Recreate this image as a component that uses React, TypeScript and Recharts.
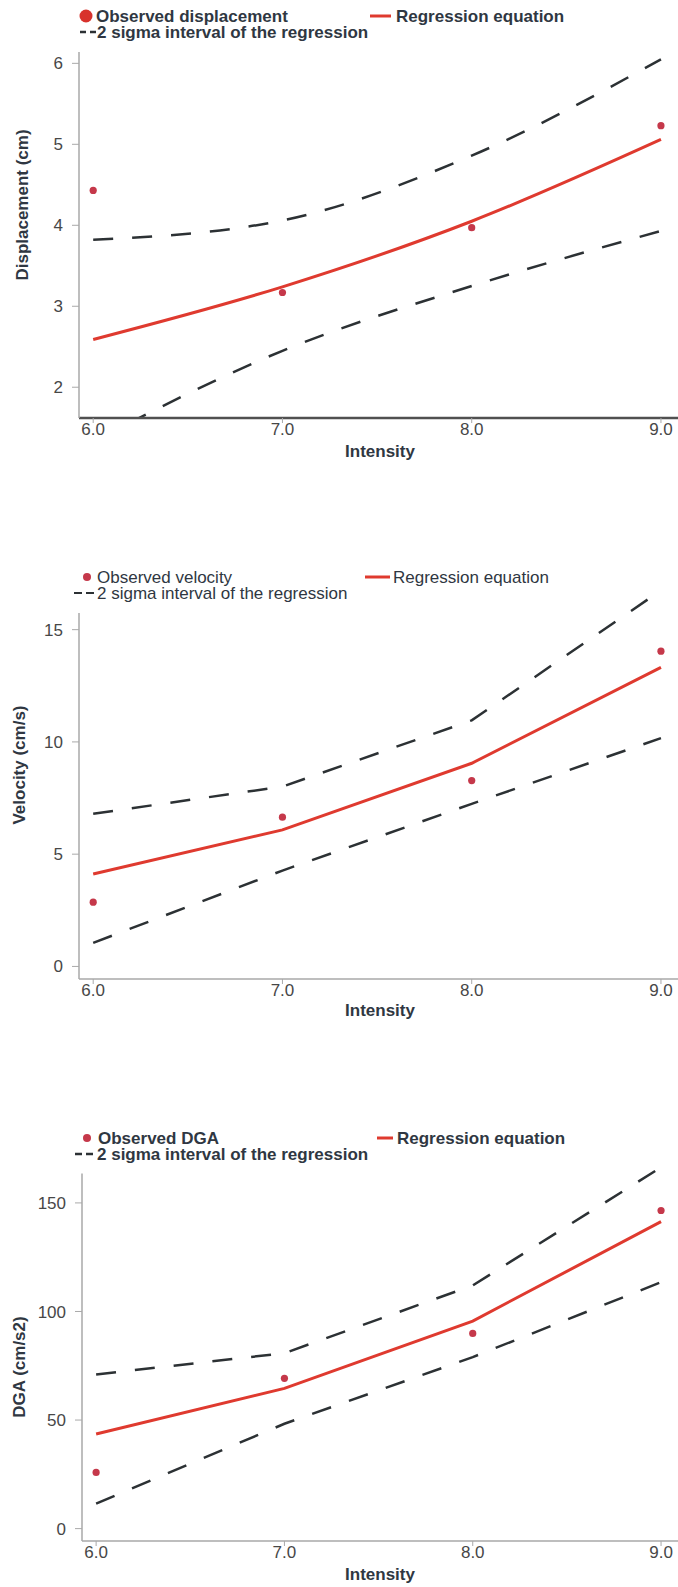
import React from "react";
import { LineChart, Line, XAxis, YAxis, ReferenceLine } from "recharts";

// x categories (intensity)
const INTENSITY = [6, 7, 8, 9];
const X_TICKS = [6, 7, 8, 9];

// displacement (cm)
const DISP_OBSERVED = [4.43, 3.17, 3.97, 5.23];
const DISP_REGRESSION = [2.59, 3.24, 4.05, 5.06];
const DISP_UPPER = [3.82, 4.06, 4.86, 6.05];
const DISP_LOWER = [1.33, 2.45, 3.25, 3.93];
const DISP_TICKS = [2, 3, 4, 5, 6];

// velocity (cm/s)
const VEL_OBSERVED = [2.86, 6.65, 8.28, 14.04];
const VEL_REGRESSION = [4.12, 6.08, 9.05, 13.32];
const VEL_UPPER = [6.8, 8.01, 10.96, 16.75];
const VEL_LOWER = [1.05, 4.27, 7.24, 10.17];
const VEL_TICKS = [0, 5, 10, 15];

// DGA (cm/s2)
const DGA_OBSERVED = [25.9, 69.2, 89.9, 146.5];
const DGA_REGRESSION = [43.6, 64.6, 95.6, 141.4];
const DGA_UPPER = [71.0, 80.8, 112.0, 166.4];
const DGA_LOWER = [11.5, 48.3, 79.0, 113.5];
const DGA_TICKS = [0, 50, 100, 150];

const FONT = '"Liberation Sans", Arial, sans-serif';
const TEXT_DARK = "#2f3742";
const TICK_GRAY = "#474747";
const AXIS_GRAY = "#a9a9a9";
const RED_LINE = "#df3a2f";
const DOT_RED = "#c5384a";
const DASH_DARK = "#2c3134";
const X_DOMAIN: [number, number] = [5.925, 9.09];

function buildRows(obs: number[], reg: number[], up: number[], lo: number[]) {
  return INTENSITY.map((x, i) => ({ x, observed: obs[i], regression: reg[i], upper: up[i], lower: lo[i] }));
}

// title text rendered through the axis label slot (prop names kept away from Label's own)
function AxisTitle({ tx, ty, rot, title }: { tx: number; ty: number; rot?: number; title: string }) {
  return (
    <text
      x={tx}
      y={ty}
      transform={rot ? `rotate(${rot} ${tx} ${ty})` : undefined}
      textAnchor="middle"
      dominantBaseline="central"
      fontFamily={FONT}
      fontWeight="bold"
      fontSize={17}
      fill={TEXT_DARK}
    >
      {title}
    </text>
  );
}

type PanelProps = {
  top: number;
  height: number;
  marginTop: number;
  xAxisHeight: number;
  yAxisWidth: number;
  rows: ReturnType<typeof buildRows>;
  yDomain: [number, number];
  yTicks: number[];
  yAxisTop?: number;
  xAxisStroke: string;
  xAxisWidth: number;
  curve: "monotone" | "linear";
  yLabel: string;
  yLabelPos: [number, number];
  xLabelY: number;
};

function Panel(p: PanelProps) {
  const ownAxis = p.yAxisTop !== undefined;
  const tickStyle = { fill: TICK_GRAY, fontSize: 17, fontFamily: FONT };
  return (
    <div style={{ position: "absolute", left: 0, top: p.top, width: 678, height: p.height }}>
      <LineChart width={678} height={p.height} data={p.rows} margin={{ top: p.marginTop, right: 0, bottom: 0, left: 0 }}>
        <XAxis
          type="number"
          dataKey="x"
          domain={X_DOMAIN}
          allowDataOverflow
          ticks={X_TICKS}
          tickFormatter={(v: number) => v.toFixed(1)}
          height={p.xAxisHeight}
          axisLine={{ stroke: p.xAxisStroke, strokeWidth: p.xAxisWidth }}
          tickLine={{ stroke: AXIS_GRAY }}
          tickSize={5}
          tickMargin={0}
          tick={tickStyle}
          label={<AxisTitle tx={380} ty={p.xLabelY} title="Intensity" />}
        />
        <YAxis
          type="number"
          domain={p.yDomain}
          allowDataOverflow
          ticks={p.yTicks}
          width={p.yAxisWidth}
          axisLine={ownAxis ? false : { stroke: AXIS_GRAY, strokeWidth: 1.5 }}
          tickLine={{ stroke: AXIS_GRAY }}
          tickSize={7}
          tickMargin={9}
          tick={tickStyle}
          label={<AxisTitle tx={p.yLabelPos[0]} ty={p.yLabelPos[1]} rot={-90} title={p.yLabel} />}
        />
        {ownAxis && (
          <ReferenceLine
            segment={[
              { x: X_DOMAIN[0], y: p.yDomain[0] },
              { x: X_DOMAIN[0], y: p.yAxisTop as number },
            ]}
            stroke={AXIS_GRAY}
            strokeWidth={1.5}
            ifOverflow="visible"
          />
        )}
        <Line type={p.curve} dataKey="upper" stroke={DASH_DARK} strokeWidth={2.5} strokeDasharray="20 19" dot={false} activeDot={false} isAnimationActive={false} />
        <Line type={p.curve} dataKey="lower" stroke={DASH_DARK} strokeWidth={2.5} strokeDasharray="20 19" dot={false} activeDot={false} isAnimationActive={false} />
        <Line type={p.curve} dataKey="regression" stroke={RED_LINE} strokeWidth={3} dot={false} activeDot={false} isAnimationActive={false} />
        <Line dataKey="observed" stroke="none" dot={{ r: 3.6, fill: DOT_RED, stroke: "none" }} activeDot={false} isAnimationActive={false} />
      </LineChart>
    </div>
  );
}

type LegendSpec = {
  y: number;
  gap: number;
  bold: boolean;
  obsText: string;
  dotX: number;
  dotR: number;
  dotFill: string;
  obsX: number;
  regLine: [number, number];
  regX: number;
  dashLine: [number, number];
  dashPattern: string;
  sigmaX: number;
};

function LegendRows({ s }: { s: LegendSpec }) {
  const textProps = {
    fontFamily: FONT,
    fontSize: 17,
    fontWeight: s.bold ? "bold" : "normal",
    fill: TEXT_DARK,
    dominantBaseline: "central" as const,
  };
  const y2 = s.y + s.gap;
  return (
    <g>
      <circle cx={s.dotX} cy={s.y} r={s.dotR} fill={s.dotFill} />
      <text x={s.obsX} y={s.y} {...textProps}>{s.obsText}</text>
      <line x1={s.regLine[0]} x2={s.regLine[1]} y1={s.y} y2={s.y} stroke={RED_LINE} strokeWidth={3} />
      <text x={s.regX} y={s.y} {...textProps}>Regression equation</text>
      <line x1={s.dashLine[0]} x2={s.dashLine[1]} y1={y2} y2={y2} stroke={DASH_DARK} strokeWidth={s.bold ? 2.6 : 1.8} strokeDasharray={s.dashPattern} />
      <text x={s.sigmaX} y={y2} {...textProps}>2 sigma interval of the regression</text>
    </g>
  );
}

const LEGENDS: LegendSpec[] = [
  { y: 16, gap: 16, bold: true, obsText: "Observed displacement", dotX: 86, dotR: 6.5, dotFill: "#d8322c", obsX: 96, regLine: [370, 391], regX: 396, dashLine: [80, 96], dashPattern: "6 4", sigmaX: 97 },
  { y: 577, gap: 16, bold: false, obsText: "Observed velocity", dotX: 87, dotR: 4, dotFill: DOT_RED, obsX: 97, regLine: [365, 390], regX: 393, dashLine: [74, 95], dashPattern: "8 4", sigmaX: 97 },
  { y: 1138, gap: 16, bold: true, obsText: "Observed DGA", dotX: 87, dotR: 4, dotFill: DOT_RED, obsX: 98, regLine: [377, 393], regX: 397, dashLine: [75, 96], dashPattern: "7 4", sigmaX: 97 },
];

export default function App() {
  return (
    <div style={{ position: "absolute", left: 0, top: 0, width: 678, height: 1587, background: "#fff", overflow: "hidden" }}>
      <Panel
        top={0}
        height={470}
        marginTop={52}
        xAxisHeight={52}
        yAxisWidth={79}
        rows={buildRows(DISP_OBSERVED, DISP_REGRESSION, DISP_UPPER, DISP_LOWER)}
        yDomain={[1.62, 6.14]}
        yTicks={DISP_TICKS}
        xAxisStroke="#505050"
        xAxisWidth={2.5}
        curve="monotone"
        yLabel="Displacement (cm)"
        yLabelPos={[22, 205]}
        xLabelY={451}
      />
      <Panel
        top={560}
        height={472}
        marginTop={27}
        xAxisHeight={53}
        yAxisWidth={79}
        rows={buildRows(VEL_OBSERVED, VEL_REGRESSION, VEL_UPPER, VEL_LOWER)}
        yDomain={[-0.56, 16.9]}
        yTicks={VEL_TICKS}
        yAxisTop={15.74}
        xAxisStroke={AXIS_GRAY}
        xAxisWidth={1.5}
        curve="linear"
        yLabel="Velocity (cm/s)"
        yLabelPos={[19, 205]}
        xLabelY={450}
      />
      <Panel
        top={1120}
        height={467}
        marginTop={46}
        xAxisHeight={46}
        yAxisWidth={82}
        rows={buildRows(DGA_OBSERVED, DGA_REGRESSION, DGA_UPPER, DGA_LOWER)}
        yDomain={[-5.7, 167]}
        yTicks={DGA_TICKS}
        yAxisTop={163.5}
        xAxisStroke={AXIS_GRAY}
        xAxisWidth={1.5}
        curve="linear"
        yLabel="DGA (cm/s2)"
        yLabelPos={[19, 247]}
        xLabelY={454}
      />
      <svg width={678} height={1587} style={{ position: "absolute", left: 0, top: 0, pointerEvents: "none" }}>
        {LEGENDS.map((s, i) => (
          <LegendRows key={i} s={s} />
        ))}
      </svg>
    </div>
  );
}
